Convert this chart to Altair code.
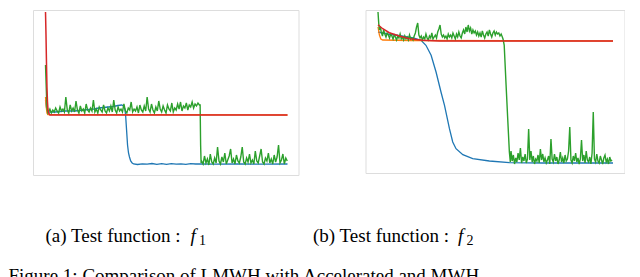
import altair as alt
import pandas as pd

# ---------------- data (arbitrary units) ----------------
# Left panel (f1): x = iteration 0..1000, y = objective (arbitrary units)
L_BLUE_X = [0, 5, 10, 40, 80, 120, 160, 200, 220, 240, 260, 280, 300, 315, 322, 328, 331, 335, 339, 343, 347,
            352, 358, 364, 380, 400, 420, 440, 460, 480, 500, 520, 540, 560, 580, 600, 620, 640, 700, 800, 900, 1000]
L_BLUE_Y = [75, 66, 63, 63, 64, 64, 65, 66, 67, 67.5, 68, 68.5, 69.5, 70, 69, 66, 60, 45, 30, 22, 18,
            14, 12, 11, 10.5, 11.2, 10.8, 11.5, 10.7, 11.3, 10.6, 11.4, 10.9, 11.2, 10.6, 11.3, 11, 11.2, 10.8, 11, 10.9, 11]
L_ORANGE_X = [0, 3, 6, 10, 1000]
L_ORANGE_Y = [78, 68, 62, 60.5, 60]
L_RED_X = [0, 2, 4, 6, 8, 10, 13, 18, 1000]
L_RED_Y = [163, 140, 112, 88, 74, 66, 62, 60, 60]

L_GREEN_START_X = [0, 2, 4, 6, 8, 10]
L_GREEN_START_Y = [110, 95, 80, 68, 64, 62]
L_GREEN_UP_X0, L_GREEN_UP_STEP = 12, 6
L_GREEN_UP_Y = [63, 66, 62, 65, 63, 67, 64, 62, 68, 64,
                66, 63, 78, 65, 62, 70, 64, 67, 63, 74,
                65, 62, 69, 64, 66, 62, 71, 65, 63, 67,
                64, 75, 63, 66, 62, 68, 65, 63, 70, 64,
                62, 67, 64, 69, 63, 75, 65, 62, 68, 64,
                66, 63, 71, 64, 62, 67, 65, 73, 63, 66,
                64, 68, 62, 70, 65, 63, 69, 64, 78, 66,
                63, 71, 65, 62, 68, 64, 74, 66, 63, 69,
                65, 62, 70, 66, 64, 72, 63, 67, 65, 71,
                66, 73, 64, 69, 67, 72, 65, 70, 68, 73,
                67, 71, 69, 72, 70]
L_GREEN_DROP_X = [639, 641, 643]
L_GREEN_DROP_Y = [70, 30, 12]
L_GREEN_LOW_X0, L_GREEN_LOW_STEP = 645, 6
L_GREEN_LOW_Y = [14, 11, 19, 12, 16, 10, 21, 13, 11, 17,
                 12, 28, 14, 11, 18, 13, 22, 11, 15, 19,
                 26, 12, 16, 11, 20, 14, 12, 18, 28, 13,
                 11, 17, 13, 21, 12, 15, 11, 24, 14, 12,
                 19, 26, 13, 11, 17, 14, 22, 12, 16, 11,
                 20, 13, 18, 30, 12, 15, 21, 11, 17, 14]

# Right panel (f2)
R_BLUE_X = [0, 40, 100, 150, 183, 204, 226, 247, 268, 283, 304, 318, 332, 361, 403, 474, 559, 700, 1000]
R_BLUE_Y = [141, 139, 137, 135, 132.7, 127.7, 117.7, 101, 81, 67.7, 44.3, 31, 24.3, 18.3, 14.3, 12, 10.3, 10, 10]
R_ORANGE_X = [0, 6, 12, 20, 140, 1000]
R_ORANGE_Y = [146, 138, 134, 133, 132.5, 132]
R_RED_X = [0, 20, 48, 91, 133, 190, 261, 1000]
R_RED_Y = [148.3, 144.3, 140.3, 137, 134.3, 132.7, 132, 132]

R_GREEN_START_X = [0, 3, 6, 10]
R_GREEN_START_Y = [161, 150, 143, 146]
R_GREEN_UP_X0, R_GREEN_UP_STEP = 14, 5
R_GREEN_UP_Y = [141, 137, 143, 139, 136, 140, 138, 135, 139, 137,
                134, 138, 136, 133, 137, 135, 139, 134, 136, 133,
                137, 134, 136, 133, 138, 134, 135, 133, 137, 140,
                146, 150, 138, 135, 137, 133, 136, 134, 139, 135,
                133, 137, 135, 140, 134, 136, 138, 135, 141, 144,
                148, 139, 136, 138, 135, 137, 134, 139, 136, 138,
                135, 140, 137, 134, 139, 136, 141, 137, 135, 140,
                143, 139, 146, 141, 148, 142, 145, 139, 143, 140,
                142, 138, 141, 137, 140, 136, 142, 138, 135, 139,
                141, 137, 143, 139, 136, 140, 142, 138, 141, 139,
                140, 137, 139, 136]
R_GREEN_DROP_X = [532, 537, 545, 552, 559, 563]
R_GREEN_DROP_Y = [134, 128, 88, 54, 21, 11]
R_GREEN_LOW_X0, R_GREEN_LOW_STEP = 566, 5
R_GREEN_LOW_Y = [22, 12, 18, 9, 15, 11, 20, 13, 25, 10,
                 16, 12, 19, 10, 14, 44, 13, 22, 11, 17,
                 9, 14, 12, 18, 10, 24, 13, 19, 11, 15,
                 10, 13, 17, 9, 34, 14, 11, 19, 12, 16,
                 9, 13, 21, 11, 15, 10, 18, 12, 14, 22,
                 46, 13, 10, 17, 12, 20, 11, 15, 9, 14,
                 33, 12, 18, 10, 22, 13, 11, 16, 9, 20,
                 61, 14, 11, 19, 12, 10, 17, 13, 9, 15,
                 18, 11, 14, 9, 16, 12, 13]

CAPTIONS = ["(a) Test function :", "(b) Test function :"]
CAPTION_F = "f"
CAPTION_SUBS = ["1", "2"]
FIGURE_CAPTION = "Figure 1: Comparison of LMWH with Accelerated and MWH"

COLORS = {"blue": "#1f77b4", "orange": "#ff7f0e", "green": "#2ca02c", "red": "#d62728"}


def green_series(sx, sy, x0, step, up, dx, dy, x1, step1, low):
    xs = list(sx) + [x0 + step * k for k in range(len(up))] + list(dx) + [x1 + step1 * k for k in range(len(low))]
    ys = list(sy) + list(up) + list(dy) + list(low)
    return pd.DataFrame({"i": xs, "v": ys})


def panel(blue, orange, green, red, xdom, ydom, w, h, caption, sub, cx):
    X = alt.X("i:Q", scale=alt.Scale(domain=xdom, nice=False, zero=False), axis=None)
    Y = alt.Y("v:Q", scale=alt.Scale(domain=ydom, nice=False, zero=False), axis=None)

    def ln(df, c, sw, op=1.0):
        return alt.Chart(df).mark_line(color=COLORS[c], strokeWidth=sw, opacity=op).encode(x=X, y=Y)

    txt = dict(font="Liberation Serif", fontSize=19, color="black", align="left", baseline="alphabetic")
    cap = alt.Chart(pd.DataFrame({"t": [caption]})).mark_text(**txt).encode(
        x=alt.value(cx), y=alt.value(231.5), text="t:N")
    f = alt.Chart(pd.DataFrame({"t": [CAPTION_F]})).mark_text(fontStyle="italic", **txt).encode(
        x=alt.value(cx + 145), y=alt.value(231.5), text="t:N")
    s = alt.Chart(pd.DataFrame({"t": [sub]})).mark_text(
        font="Liberation Serif", fontSize=14, color="black", align="left", baseline="alphabetic").encode(
        x=alt.value(cx + 153.5), y=alt.value(235), text="t:N")
    layers = [ln(blue, "blue", 1.3), ln(orange, "orange", 1.3), ln(green, "green", 1.4),
              ln(red, "red", 1.5), cap, f, s]
    return alt.layer(*layers).properties(width=w, height=h)


left_green = green_series(L_GREEN_START_X, L_GREEN_START_Y, L_GREEN_UP_X0, L_GREEN_UP_STEP, L_GREEN_UP_Y,
                          L_GREEN_DROP_X, L_GREEN_DROP_Y, L_GREEN_LOW_X0, L_GREEN_LOW_STEP, L_GREEN_LOW_Y)
right_green = green_series(R_GREEN_START_X, R_GREEN_START_Y, R_GREEN_UP_X0, R_GREEN_UP_STEP, R_GREEN_UP_Y,
                           R_GREEN_DROP_X, R_GREEN_DROP_Y, R_GREEN_LOW_X0, R_GREEN_LOW_STEP, R_GREEN_LOW_Y)

left = panel(pd.DataFrame({"i": L_BLUE_X, "v": L_BLUE_Y}), pd.DataFrame({"i": L_ORANGE_X, "v": L_ORANGE_Y}),
             left_green, pd.DataFrame({"i": L_RED_X, "v": L_RED_Y}),
             [-51.7, 1045.5], [0, 165], 265.5, 165, CAPTIONS[0], CAPTION_SUBS[0], 12.5)
fig = alt.Chart(pd.DataFrame({"t": [FIGURE_CAPTION]})).mark_text(
    font="Liberation Serif", fontSize=19, color="black", align="left", baseline="alphabetic",
    limit=620, ellipsis="").encode(x=alt.value(-24.5), y=alt.value(271.5), text="t:N")
left = alt.layer(left, fig)

right = panel(pd.DataFrame({"i": R_BLUE_X, "v": R_BLUE_Y}), pd.DataFrame({"i": R_ORANGE_X, "v": R_ORANGE_Y}),
              right_green, pd.DataFrame({"i": R_RED_X, "v": R_RED_Y}),
              [-53.2, 1048.9], [0, 163], 259, 163, CAPTIONS[1], CAPTION_SUBS[1], -52.5)

chart = alt.hconcat(left, right, spacing=66.5, bounds="flush").properties(padding=0).configure_view(
    stroke="#555555", strokeWidth=1.3).configure(background="white")

chart.save("out.html", embed_options={"renderer": "svg", "actions": False})
